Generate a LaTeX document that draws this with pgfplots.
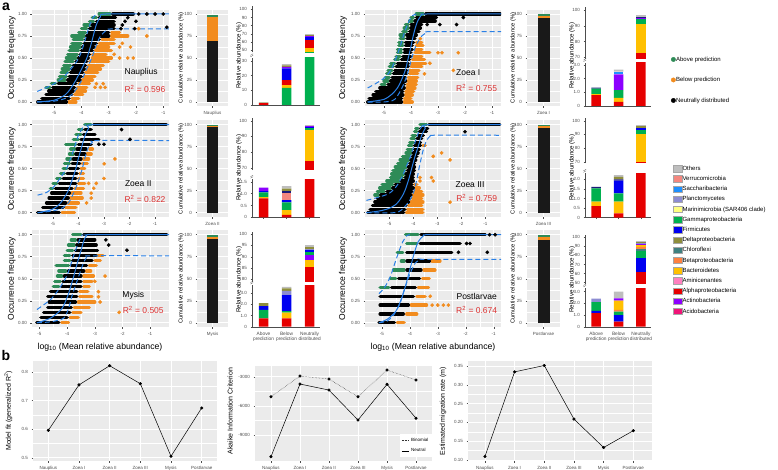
\documentclass[border=0pt]{standalone}
\usepackage{pgfplots}
\pgfplotsset{compat=1.18}
\usepackage{fontspec}
\setmainfont{Liberation Sans}
\newcommand{\fs}[1]{\fontsize{#1}{#1}\selectfont}
\definecolor{gggrey}{HTML}{EBEBEB}
\definecolor{ggtick}{HTML}{4D4D4D}
\definecolor{pgreen}{HTML}{2E8B57}
\definecolor{porange}{HTML}{F28C1E}
\definecolor{fitblue}{HTML}{2A80E6}
\definecolor{rred}{HTML}{DC3232}
\definecolor{cOth}{HTML}{BEBEBE}
\definecolor{cVer}{HTML}{F4877F}
\definecolor{cSac}{HTML}{1E90FF}
\definecolor{cPla}{HTML}{8C8CD2}
\definecolor{cMar}{HTML}{FFFF80}
\definecolor{cGam}{HTML}{00B04F}
\definecolor{cFir}{HTML}{0000F0}
\definecolor{cDel}{HTML}{8E8E3C}
\definecolor{cChl}{HTML}{3F8080}
\definecolor{cBet}{HTML}{FF8040}
\definecolor{cBac}{HTML}{FFC000}
\definecolor{cAmi}{HTML}{FF80C0}
\definecolor{cAlp}{HTML}{E60000}
\definecolor{cAct}{HTML}{8C00FF}
\definecolor{cAci}{HTML}{F01478}
\definecolor{cNav}{HTML}{1C1C7A}

\pgfplotsset{
 base/.style={scale only axis, anchor=south west,
   /pgf/number format/assume math mode=true,
   tick label style={font=\fs{4.5}, text=ggtick},
   major tick length=1.5pt, minor tick length=0pt, tick align=outside,
   tick style={ggtick, line width=0.4pt}},
 gg/.style={base, axis background/.style={fill=gggrey}, axis line style={draw=none},
   grid=both, major grid style={white, line width=0.55pt},
   minor grid style={white, line width=0.3pt},
   xtick pos=left, ytick pos=left},
 scat/.style={gg, height=96.8pt, ymin=-0.05, ymax=1.05,
   ytick={0,0.25,0.5,0.75,1}, yticklabels={0.00,0.25,0.50,0.75,1.00},
   xtick={-5,-4,-3,-2,-1}, xticklabels={-5,-4,-3,-2,-1}, minor tick num=1,
   unbounded coords=jump},
 gs/.style={pgreen, line width=3.3pt, line cap=round},
 os/.style={porange, line width=3.3pt, line cap=round},
 ks/.style={black, line width=3.3pt, line cap=round},
 gp/.style={pgreen, only marks, mark=*, mark size=1.65pt},
 op/.style={porange, only marks, mark=*, mark size=1.65pt},
 kp/.style={black, only marks, mark=*, mark size=1.65pt},
 fl/.style={fitblue, line width=1pt, smooth, tension=0.45},
 fd/.style={fl, dash pattern=on 5pt off 3pt},
 cum/.style={gg, height=96.8pt, ymin=-5, ymax=105, ytick={0,25,50,75,100},
   xtick={1}, xmin=0.4, xmax=1.6, ybar stacked, minor y tick num=1, minor x tick num=0},
 stk/.style={base, xmin=0.5, xmax=3.45, ybar stacked, bar width=9.5pt,
   clip mode=individual, axis line style={ggtick, line width=0.4pt}},
 stklo/.style={stk, axis x line*=bottom, axis y line*=left, xtick={1,2,3}, xticklabels={}},
 stkup/.style={stk, axis y line*=left, hide x axis},
 stknames/.style={xticklabels={Above\\prediction,Below\\prediction,Neutrally\\distributed},
   xticklabel style={align=center, font=\fs{4.8}, text=ggtick}},
 bplot/.style={gg, height=100pt, xtick={1,2,3,4,5,6},
   xticklabels={Nauplius,Zoea I,Zoea II,Zoea III,Mysis,Postlarvae},
   minor y tick num=1, minor x tick num=0, scaled y ticks=false},
}
\newif\ifupper
\newcommand{\bs}[4]{\ifupper\addplot[fill=#1,draw=none] coordinates {(3,#4)};\else\addplot[fill=#1,draw=none] coordinates {(1,#2) (2,#3) (3,#4)};\fi}
\newcommand{\brk}{\draw[ggtick,line width=0.3pt] ([xshift=-1.5pt,yshift=1.2pt]rel axis cs:0,1) -- ++(2.6pt,1.5pt);
 \draw[ggtick,line width=0.3pt] ([xshift=-1.5pt,yshift=2.7pt]rel axis cs:0,1) -- ++(2.6pt,1.5pt);}
\newcommand{\NauB}{\bs{cGam}{0}{11.6}{46}\bs{cBac}{0}{2}{7}\bs{cAlp}{1.2}{3.4}{9}\bs{cFir}{0}{8}{4}\bs{cAct}{0}{0.9}{1}\bs{cDel}{0.4}{1}{1}\bs{cOth}{0.3}{1}{1.3}}
\newcommand{\ZIB}{\bs{cAlp}{0.8}{0.3}{72.9}\bs{cBac}{0.07}{0.3}{18.2}\bs{cGam}{0.4}{0.55}{3}\bs{cAct}{0}{1.15}{1}\bs{cSac}{0}{0.2}{0}\bs{cNav}{0.07}{0}{0.3}\bs{cOth}{0}{0.15}{1.2}}
\newcommand{\ZIIB}{\bs{cAlp}{0.8}{0.1}{74.3}\bs{cBac}{0.05}{0.2}{19.8}\bs{cGam}{0.2}{0.33}{1}\bs{cFir}{0.05}{0.1}{0.9}\bs{cVer}{0}{0.28}{0}\bs{cNav}{0}{0.1}{0}\bs{cAct}{0.15}{0}{0.5}\bs{cDel}{0}{0.1}{0.2}\bs{cOth}{0}{0.11}{0.3}}
\newcommand{\ZIIIB}{\bs{cAlp}{0.6}{0.23}{69.6}\bs{cBac}{0.23}{0.6}{20.7}\bs{cGam}{0.7}{0.44}{3.2}\bs{cFir}{0}{0.66}{1.5}\bs{cNav}{0.08}{0.07}{0}\bs{cDel}{0}{0.13}{1}\bs{cOth}{0}{0.09}{1}}
\newcommand{\MysB}{\bs{cAlp}{0.75}{0.75}{85.6}\bs{cBac}{0}{0.5}{2.9}\bs{cAct}{0}{0}{2.2}\bs{cGam}{0.75}{0.15}{1.3}\bs{cFir}{0.35}{1.43}{1}\bs{cPla}{0}{0.37}{0.5}\bs{cDel}{0.25}{0.23}{0.6}\bs{cOth}{0}{0.14}{1}}
\newcommand{\PosB}{\bs{cAlp}{1.15}{0.43}{61.4}\bs{cFir}{0.2}{0.57}{15.6}\bs{cGam}{0.75}{0.28}{7.8}\bs{cChl}{0}{0}{2.6}\bs{cBet}{0}{0.15}{1.7}\bs{cBac}{0}{0.79}{2}\bs{cAct}{0}{0.2}{1.5}\bs{cPla}{0.3}{0}{0.6}\bs{cDel}{0}{0}{1.2}\bs{cOth}{0}{0.58}{1.8}}

\begin{document}
\begin{tikzpicture}
\useasboundingbox (0,0) rectangle (778pt,-470pt);

% ================= Nauplius scatter
\begin{axis}[scat, width=137pt, at={(32pt,-106.4pt)}, xmin=-5.81, xmax=-0.79]
\addplot[gs] coordinates {(-5.3,.1667)(-5.15,.1667)(nan,nan)(-5.1,.2083)(-4.95,.2083)(nan,nan)(-4.85,.25)(-4.6,.25)(nan,nan)(-4.8,.2917)(-4.55,.2917)(nan,nan)(-4.75,.3333)(-4.5,.3333)(nan,nan)(-4.7,.375)(-4.45,.375)(nan,nan)(-4.65,.4167)(-4.4,.4167)(nan,nan)(-4.6,.4583)(-4.3,.4583)(nan,nan)(-4.55,.5)(-4.2,.5)(nan,nan)(-4.5,.5417)(-4.15,.5417)(nan,nan)(-4.45,.5833)(-4.1,.5833)(nan,nan)(-4.4,.625)(-4.05,.625)(nan,nan)(-4.35,.6667)(-4.0,.6667)(nan,nan)(-4.3,.7083)(-3.95,.7083)(nan,nan)(-4.35,.75)(-3.9,.75)(nan,nan)(-4.1,.7917)(-3.85,.7917)(nan,nan)(-4.0,.8333)(-3.8,.8333)(nan,nan)(-3.9,.875)(-3.7,.875)(nan,nan)(-3.7,.9167)(-3.55,.9167)(nan,nan)(-3.6,.9583)(-3.45,.9583)(nan,nan)(-3.35,1)(-2.95,1)};
\addplot[os] coordinates {(-4.45,0)(-4.2,0)(nan,nan)(-4.35,.0417)(-4.1,.0417)(nan,nan)(-4.25,.0833)(-3.95,.0833)(nan,nan)(-4.2,.125)(-3.85,.125)(nan,nan)(-4.15,.1667)(-3.8,.1667)(nan,nan)(-4.1,.2083)(-3.7,.2083)(nan,nan)(-3.95,.25)(-3.6,.25)(nan,nan)(-3.9,.2917)(-3.5,.2917)(nan,nan)(-3.85,.3333)(-3.4,.3333)(nan,nan)(-3.8,.375)(-3.3,.375)(nan,nan)(-3.75,.4167)(-3.2,.4167)(nan,nan)(-3.7,.4583)(-3.0,.4583)(nan,nan)(-3.6,.5)(-2.9,.5)(nan,nan)(-3.6,.5417)(-3.1,.5417)(nan,nan)(-3.5,.5833)(-2.9,.5833)(nan,nan)(-3.45,.625)(-3.0,.625)(nan,nan)(-3.35,.6667)(-2.8,.6667)(nan,nan)(-3.25,.7083)(-2.8,.7083)(nan,nan)(-2.9,.75)(-2.3,.75)(nan,nan)(-2.9,.7917)(-2.6,.7917)};
\addplot[op] coordinates {(-3.5,.1667)(-3.3,.1667)(-3.13,.1667)(-3.45,.2083)(-3.2,.2083)(-2.6,.5)(-2.3,.5)(-2.1,.5)(-2.8,.5417)(-2.6,.625)(-2.2,.625)(-2.5,.6667)(-1.6,.75)(-1.9,.8333)};
\addplot[ks] coordinates {(-5.6,0)(-4.55,0)(nan,nan)(-5.45,.0417)(-4.45,.0417)(nan,nan)(-5.3,.0833)(-4.35,.0833)(nan,nan)(-5.2,.125)(-4.3,.125)(nan,nan)(-5.05,.1667)(-4.25,.1667)(nan,nan)(-4.85,.2083)(-4.2,.2083)(nan,nan)(-4.5,.25)(-4.05,.25)(nan,nan)(-4.45,.2917)(-4.0,.2917)(nan,nan)(-4.4,.3333)(-3.95,.3333)(nan,nan)(-4.35,.375)(-3.9,.375)(nan,nan)(-4.3,.4167)(-3.85,.4167)(nan,nan)(-4.2,.4583)(-3.8,.4583)(nan,nan)(-4.1,.5)(-3.75,.5)(nan,nan)(-4.05,.5417)(-3.7,.5417)(nan,nan)(-4.0,.5833)(-3.6,.5833)(nan,nan)(-3.95,.625)(-3.55,.625)(nan,nan)(-3.9,.6667)(-3.45,.6667)(nan,nan)(-3.85,.7083)(-3.35,.7083)(nan,nan)(-3.8,.75)(-3.0,.75)(nan,nan)(-3.75,.7917)(-3.0,.7917)(nan,nan)(-3.7,.8333)(-2.8,.8333)(nan,nan)(-3.6,.875)(-2.8,.875)(nan,nan)(-3.45,.9167)(-2.8,.9167)(nan,nan)(-3.35,.9583)(-2.75,.9583)(nan,nan)(-2.85,1)(-2.1,1)};
\addplot[kp] coordinates {(-2.55,.8333)(-2.05,.8333)(-2.5,.875)(-2.4,.9167)(-2.0,.9167)(-2.3,.9583)(-1.9,1)(-1.6,1)(-1.3,1)(-1.0,1)(-0.87,.85)};
\addplot[fl] coordinates {(-5.62,0)(-5.0,0.02)(-4.6,0.08)(-4.4,0.15)(-4.2,0.25)(-4.0,0.37)(-3.8,0.5)(-3.65,0.65)(-3.55,0.77)(-3.45,0.88)(-3.3,0.97)(-3.1,1)(-0.79,1)};
\addplot[fd] coordinates {(-5.62,0.12)(-5.1,0.19)(-4.7,0.27)(-4.4,0.37)(-4.15,0.47)(-4.0,0.57)(-3.85,0.72)(-3.7,0.87)(-3.55,0.97)(-3.42,1)};
\addplot[fd] coordinates {(-5.62,0)(-5.0,0.01)(-4.6,0.04)(-4.3,0.1)(-4.0,0.24)(-3.8,0.38)(-3.62,0.5)(-3.45,0.65)(-3.3,0.75)(-3.1,0.81)(-2.9,0.83)(-0.79,0.83)};
\node[font=\fs{8.5}] at (axis cs:-1.81,0.333) {Nauplius};
\node[font=\fs{8.5}, text=rred] at (axis cs:-1.67,0.144) {R\textsuperscript{2} = 0.596};
\end{axis}

% ================= Zoea II scatter
\begin{axis}[scat, width=137pt, at={(32pt,-217.1pt)}, xmin=-5.82, xmax=-0.45]
\addplot[gs] coordinates {(-5.1,.2778)(-5.0,.2778)(nan,nan)(-5.0,.3333)(-4.85,.3333)(nan,nan)(-4.85,.3889)(-4.7,.3889)(nan,nan)(-4.7,.4444)(-4.55,.4444)(nan,nan)(-4.6,.5)(-4.45,.5)(nan,nan)(-4.55,.5556)(-4.35,.5556)(nan,nan)(-4.45,.6111)(-4.3,.6111)(nan,nan)(-4.35,.6667)(-4.2,.6667)(nan,nan)(-4.3,.7222)(-4.15,.7222)(nan,nan)(-4.5,.7778)(-4.1,.7778)(nan,nan)(-4.2,.8333)(-4.0,.8333)(nan,nan)(-4.1,.8889)(-3.9,.8889)(nan,nan)(-4.0,.9444)(-3.85,.9444)(nan,nan)(-3.75,1)(-3.5,1)};
\addplot[os] coordinates {(-4.65,0)(-4.15,0)(nan,nan)(-4.5,.0556)(-4.1,.0556)(nan,nan)(-4.4,.1111)(-4.0,.1111)(nan,nan)(-4.3,.1667)(-3.85,.1667)(nan,nan)(-4.25,.2222)(-3.9,.2222)(nan,nan)(-4.15,.2778)(-3.8,.2778)(nan,nan)(-4.0,.3333)(-3.75,.3333)(nan,nan)(-4.0,.3889)(-3.8,.3889)(nan,nan)(-3.95,.4444)(-3.8,.4444)(nan,nan)(-3.9,.5)(-3.75,.5)(nan,nan)(-3.85,.5556)(-3.65,.5556)(nan,nan)(-3.8,.6111)(-3.6,.6111)(nan,nan)(-3.65,.6667)(-3.5,.6667)(nan,nan)(-3.55,.7222)(-3.45,.7222)};
\addplot[op] coordinates {(-3.68,.1111)(-3.5,.1667)(-3.5,.2222)(-3.4,.2778)(-3.6,.3333)(-3.3,.3333)(-3.0,.3889)(-2.99,.5556)(-2.57,.6111)};
\addplot[ks] coordinates {(-5.6,0)(-4.75,0)(nan,nan)(-5.4,.0556)(-4.6,.0556)(nan,nan)(-5.25,.1111)(-4.5,.1111)(nan,nan)(-5.15,.1667)(-4.4,.1667)(nan,nan)(-5.05,.2222)(-4.35,.2222)(nan,nan)(-4.9,.2778)(-4.25,.2778)(nan,nan)(-4.75,.3333)(-4.1,.3333)(nan,nan)(-4.6,.3889)(-4.1,.3889)(nan,nan)(-4.45,.4444)(-4.05,.4444)(nan,nan)(-4.35,.5)(-4.0,.5)(nan,nan)(-4.25,.5556)(-3.95,.5556)(nan,nan)(-4.2,.6111)(-3.9,.6111)(nan,nan)(-4.1,.6667)(-3.75,.6667)(nan,nan)(-4.05,.7222)(-3.7,.7222)(nan,nan)(-4.0,.7778)(-3.5,.7778)(nan,nan)(-3.9,.8333)(-3.2,.8333)(nan,nan)(-3.8,.8889)(-3.35,.8889)(nan,nan)(-3.75,.9444)(-3.5,.9444)(nan,nan)(-3.4,1)(-0.55,1)};
\addplot[kp] coordinates {(-3.2,.7778)(-3.0,.7778)(-1.98,.8333)(-2.31,.9444)};
\addplot[fl] coordinates {(-5.6,0.0)(-5.1,0.03)(-4.8,0.08)(-4.6,0.15)(-4.4,0.25)(-4.25,0.37)(-4.1,0.5)(-4.0,0.62)(-3.87,0.75)(-3.75,0.87)(-3.6,0.96)(-3.45,1.0)(-0.45,1.0)};
\addplot[fd] coordinates {(-5.6,0.2)(-5.25,0.23)(-4.95,0.3)(-4.7,0.4)(-4.47,0.5)(-4.3,0.62)(-4.15,0.75)(-4.0,0.88)(-3.8,0.98)(-3.7,1)};
\addplot[fd] coordinates {(-5.6,0.0)(-5.0,0.02)(-4.6,0.06)(-4.35,0.13)(-4.15,0.25)(-4.0,0.36)(-3.85,0.5)(-3.75,0.62)(-3.6,0.75)(-3.45,0.8)(-3.3,0.82)(-0.45,0.82)};
\node[font=\fs{8.5}] at (axis cs:-1.655,0.327) {Zoea II};
\node[font=\fs{8.5}, text=rred] at (axis cs:-1.39,0.156) {R\textsuperscript{2} = 0.822};
\end{axis}

% ================= Mysis scatter
\begin{axis}[scat, width=137pt, at={(32pt,-327.1pt)}, xmin=-5.27, xmax=-0.32]
\addplot[gs] coordinates {(-4.5,.4118)(-4.3,.4118)(nan,nan)(-4.45,.4706)(-4.25,.4706)(nan,nan)(-4.35,.5294)(-4.2,.5294)(nan,nan)(-4.3,.5882)(-4.05,.5882)(nan,nan)(-4.4,.6471)(-3.95,.6471)(nan,nan)(-4.1,.7059)(-3.9,.7059)(nan,nan)(-4.1,.7647)(-3.9,.7647)(nan,nan)(-4.0,.8235)(-3.8,.8235)(nan,nan)(-3.95,.8824)(-3.75,.8824)(nan,nan)(-3.85,.9412)(-3.7,.9412)(nan,nan)(-3.8,1)(-3.5,1)};
\addplot[os] coordinates {(-4.2,0)(-3.95,0)(nan,nan)(-3.9,.0588)(-3.6,.0588)(nan,nan)(-3.8,.1176)(-3.5,.1176)(nan,nan)(-3.75,.1765)(-3.2,.1765)(nan,nan)(-3.6,.2353)(-3.0,.2353)(nan,nan)(-3.55,.2941)(-3.1,.2941)(nan,nan)(-3.55,.3529)(-3.25,.3529)(nan,nan)(-3.4,.4118)(-3.2,.4118)(nan,nan)(-3.4,.4706)(-3.1,.4706)(nan,nan)(-3.4,.5294)(-3.05,.5294)(nan,nan)(-3.3,.5882)(-3.15,.5882)(nan,nan)(-3.2,.6471)(-2.95,.6471)(nan,nan)(-3.0,.7059)(-2.8,.7059)(nan,nan)(-2.9,.7647)(-2.7,.7647)};
\addplot[op] coordinates {(-2.12,.1176)(-2.81,.2353)(-2.87,.2941)(-2.87,.3529)(-3.0,.4706)(-2.63,.5294)};
\addplot[ks] coordinates {(-5.1,0)(-4.3,0)(nan,nan)(-4.95,.0588)(-4.0,.0588)(nan,nan)(-4.85,.1176)(-3.9,.1176)(nan,nan)(-4.7,.1765)(-3.85,.1765)(nan,nan)(-4.65,.2353)(-3.7,.2353)(nan,nan)(-4.7,.2941)(-3.65,.2941)(nan,nan)(-4.6,.3529)(-3.65,.3529)(nan,nan)(-4.2,.4118)(-3.5,.4118)(nan,nan)(-4.15,.4706)(-3.5,.4706)(nan,nan)(-4.1,.5294)(-3.5,.5294)(nan,nan)(-3.95,.5882)(-3.4,.5882)(nan,nan)(-3.85,.6471)(-3.3,.6471)(nan,nan)(-3.8,.7059)(-3.1,.7059)(nan,nan)(-3.8,.7647)(-2.95,.7647)(nan,nan)(-3.7,.8235)(-2.9,.8235)(nan,nan)(-3.65,.8824)(-2.95,.8824)(nan,nan)(-3.6,.9412)(-3.0,.9412)(nan,nan)(-3.4,1)(-0.4,1)};
\addplot[kp] coordinates {(-1.84,.8235)(-2.5,.8824)(-2.6,.9412)};
\addplot[fl] coordinates {(-5.09,0.0)(-4.61,0.05)(-4.19,0.16)(-3.95,0.33)(-3.77,0.52)(-3.63,0.68)(-3.5,0.82)(-3.4,0.93)(-3.3,0.99)(-3.15,1)(-0.32,1)};
\addplot[fd] coordinates {(-5.09,0.15)(-4.61,0.26)(-4.3,0.38)(-4.0,0.54)(-3.85,0.68)(-3.7,0.82)(-3.55,0.94)(-3.45,1)};
\addplot[fd] coordinates {(-5.09,0.0)(-4.6,0.01)(-4.13,0.05)(-3.95,0.16)(-3.83,0.3)(-3.7,0.42)(-3.59,0.52)(-3.41,0.68)(-3.3,0.74)(-3.2,0.76)(-0.32,0.76)};
\node[font=\fs{8.5}] at (axis cs:-1.61,0.307) {Mysis};
\node[font=\fs{8.5}, text=rred] at (axis cs:-1.25,0.144) {R\textsuperscript{2} = 0.505};
\end{axis}

% ================= Zoea I scatter
\begin{axis}[scat, width=136pt, at={(365pt,-106.4pt)}, xmin=-5.70, xmax=-0.667]
\addplot[gs] coordinates {(-5.1,.2)(-4.95,.2)(nan,nan)(-5.0,.24)(-4.85,.24)(nan,nan)(-4.95,.28)(-4.8,.28)(nan,nan)(-4.9,.32)(-4.75,.32)(nan,nan)(-4.85,.36)(-4.7,.36)(nan,nan)(-4.8,.4)(-4.65,.4)(nan,nan)(-4.75,.44)(-4.6,.44)(nan,nan)(-4.6,.48)(-4.45,.48)(nan,nan)(-4.55,.52)(-4.4,.52)(nan,nan)(-4.5,.56)(-4.35,.56)(nan,nan)(-4.5,.6)(-4.35,.6)(nan,nan)(-4.45,.64)(-4.3,.64)(nan,nan)(-4.45,.68)(-4.3,.68)(nan,nan)(-4.4,.72)(-4.25,.72)(nan,nan)(-4.4,.76)(-4.25,.76)(nan,nan)(-4.3,.8)(-4.15,.8)(nan,nan)(-4.25,.84)(-4.1,.84)(nan,nan)(-4.2,.88)(-4.1,.88)(nan,nan)(-4.05,.92)(-3.95,.92)(nan,nan)(-4.0,.96)(-3.9,.96)(nan,nan)(-3.8,1)(-3.55,1)};
\addplot[os] coordinates {(-4.25,0)(-3.95,0)(nan,nan)(-4.25,.04)(-4.0,.04)(nan,nan)(-4.2,.08)(-3.95,.08)(nan,nan)(-4.2,.12)(-3.9,.12)(nan,nan)(-4.15,.16)(-3.85,.16)(nan,nan)(-4.15,.2)(-3.8,.2)(nan,nan)(-4.1,.24)(-3.8,.24)(nan,nan)(-4.1,.28)(-3.75,.28)(nan,nan)(-4.05,.32)(-3.75,.32)(nan,nan)(-4.05,.36)(-3.7,.36)(nan,nan)(-4.0,.4)(-3.6,.4)(nan,nan)(-4.0,.44)(-3.45,.44)(nan,nan)(-3.95,.48)(-3.5,.48)(nan,nan)(-3.9,.52)(-3.6,.52)(nan,nan)(-3.85,.56)(-3.3,.56)(nan,nan)(-3.85,.6)(-3.6,.6)(nan,nan)(-3.8,.64)(-3.55,.64)(nan,nan)(-3.8,.68)(-3.6,.68)};
\addplot[op] coordinates {(-3.5,.32)(-2.43,.36)(-3.3,.44)(-3.0,.56)(-2.85,.56)(-2.25,.56)(-3.65,.72)};
\addplot[ks] coordinates {(-5.6,0)(-4.35,0)(nan,nan)(-5.55,.04)(-4.35,.04)(nan,nan)(-5.4,.08)(-4.3,.08)(nan,nan)(-5.3,.12)(-4.3,.12)(nan,nan)(-5.15,.16)(-4.25,.16)(nan,nan)(-4.85,.2)(-4.25,.2)(nan,nan)(-4.75,.24)(-4.2,.24)(nan,nan)(-4.7,.28)(-4.2,.28)(nan,nan)(-4.65,.32)(-4.15,.32)(nan,nan)(-4.6,.36)(-4.15,.36)(nan,nan)(-4.55,.4)(-4.1,.4)(nan,nan)(-4.5,.44)(-4.1,.44)(nan,nan)(-4.35,.48)(-4.05,.48)(nan,nan)(-4.3,.52)(-4.0,.52)(nan,nan)(-4.25,.56)(-4.0,.56)(nan,nan)(-4.25,.6)(-3.95,.6)(nan,nan)(-4.2,.64)(-3.95,.64)(nan,nan)(-4.2,.68)(-3.9,.68)(nan,nan)(-4.15,.72)(-3.85,.72)(nan,nan)(-4.15,.76)(-3.8,.76)(nan,nan)(-4.05,.8)(-3.7,.8)(nan,nan)(-4.0,.84)(-3.65,.84)(nan,nan)(-4.0,.88)(-3.6,.88)(nan,nan)(-3.85,.92)(-3.1,.92)(nan,nan)(-3.8,.96)(-3.05,.96)(nan,nan)(-3.45,1)(-0.7,1)};
\addplot[kp] coordinates {(-3.4,.88)(-2.93,.88)(-2.31,.88)(-2.06,.96)};
\addplot[fl] coordinates {(-5.6,0.0)(-5.0,0.03)(-4.7,0.09)(-4.5,0.16)(-4.35,0.25)(-4.2,0.37)(-4.1,0.5)(-4.0,0.63)(-3.94,0.72)(-3.85,0.83)(-3.75,0.92)(-3.6,0.99)(-3.4,1)(-0.667,1)};
\addplot[fd] coordinates {(-5.6,0.16)(-5.3,0.21)(-5.0,0.27)(-4.75,0.36)(-4.55,0.5)(-4.4,0.63)(-4.25,0.78)(-4.1,0.9)(-3.95,0.98)(-3.8,1)};
\addplot[fd] coordinates {(-5.6,0.0)(-5.0,0.0)(-4.6,0.03)(-4.3,0.18)(-4.1,0.35)(-3.95,0.52)(-3.8,0.65)(-3.6,0.75)(-3.4,0.79)(-3.25,0.8)(-0.667,0.8)};
\node[font=\fs{8.5}] at (axis cs:-1.88,0.333) {Zoea I};
\node[font=\fs{8.5}, text=rred] at (axis cs:-1.57,0.156) {R\textsuperscript{2} = 0.755};
\end{axis}

% ================= Zoea III scatter
\begin{axis}[scat, width=136pt, at={(365pt,-217.1pt)}, xmin=-6.01, xmax=-0.35]
\addplot[gs] coordinates {(-5.6,.2)(-5.45,.2)(nan,nan)(-5.5,.24)(-5.2,.24)(nan,nan)(-5.4,.28)(-4.95,.28)(nan,nan)(-5.3,.32)(-4.85,.32)(nan,nan)(-5.1,.36)(-4.6,.36)(nan,nan)(-4.95,.4)(-4.45,.4)(nan,nan)(-4.9,.44)(-4.4,.44)(nan,nan)(-4.85,.48)(-4.35,.48)(nan,nan)(-4.75,.52)(-4.3,.52)(nan,nan)(-4.65,.56)(-4.25,.56)(nan,nan)(-4.55,.6)(-4.2,.6)(nan,nan)(-4.45,.64)(-4.15,.64)(nan,nan)(-4.3,.68)(-4.1,.68)(nan,nan)(-4.25,.72)(-4.05,.72)(nan,nan)(-4.2,.76)(-4.05,.76)(nan,nan)(-4.15,.8)(-4.0,.8)(nan,nan)(-4.1,.84)(-3.95,.84)(nan,nan)(-4.05,.88)(-3.9,.88)(nan,nan)(-3.95,.92)(-3.85,.92)(nan,nan)(-3.9,.96)(-3.8,.96)(nan,nan)(-3.72,1)(-3.45,1)};
\addplot[os] coordinates {(-4.3,0)(-3.6,0)(nan,nan)(-4.25,.04)(-3.6,.04)(nan,nan)(-4.2,.08)(-3.65,.08)(nan,nan)(-4.1,.12)(-3.6,.12)(nan,nan)(-4.05,.16)(-3.65,.16)(nan,nan)(-4.0,.2)(-3.6,.2)(nan,nan)(-3.95,.24)(-3.65,.24)(nan,nan)(-3.9,.28)(-3.75,.28)(nan,nan)(-3.95,.32)(-3.85,.32)(nan,nan)(-3.6,.76)(-3.5,.76)};
\addplot[op] coordinates {(-2.47,.12)(-3.72,.36)(-3.17,.36)(-3.72,.4)(-3.24,.4)(-2.47,.6)(-3.17,.64)(-2.82,.68)};
\addplot[ks] coordinates {(-5.9,0)(-4.4,0)(nan,nan)(-5.8,.04)(-4.35,.04)(nan,nan)(-5.7,.08)(-4.3,.08)(nan,nan)(-5.6,.12)(-4.2,.12)(nan,nan)(-5.5,.16)(-4.15,.16)(nan,nan)(-5.35,.2)(-4.1,.2)(nan,nan)(-5.1,.24)(-4.05,.24)(nan,nan)(-4.85,.28)(-4.0,.28)(nan,nan)(-4.75,.32)(-4.05,.32)(nan,nan)(-4.5,.36)(-4.0,.36)(nan,nan)(-4.35,.4)(-4.0,.4)(nan,nan)(-4.3,.44)(-4.0,.44)(nan,nan)(-4.25,.48)(-3.95,.48)(nan,nan)(-4.2,.52)(-3.95,.52)(nan,nan)(-4.15,.56)(-3.95,.56)(nan,nan)(-4.1,.6)(-3.9,.6)(nan,nan)(-4.05,.64)(-3.85,.64)(nan,nan)(-4.0,.68)(-3.8,.68)(nan,nan)(-3.95,.72)(-3.75,.72)(nan,nan)(-3.95,.76)(-3.7,.76)(nan,nan)(-3.9,.8)(-3.7,.8)(nan,nan)(-3.85,.84)(-3.65,.84)(nan,nan)(-3.8,.88)(-3.58,.88)(nan,nan)(-3.75,.92)(-3.45,.92)(nan,nan)(-3.7,.96)(-3.4,.96)(nan,nan)(-3.35,1)(-0.4,1)};
\addplot[kp] coordinates {(-1.85,.92)};
\addplot[fl] coordinates {(-5.95,0.0)(-5.4,0.02)(-5.0,0.05)(-4.7,0.1)(-4.5,0.17)(-4.35,0.25)(-4.2,0.37)(-4.07,0.5)(-3.95,0.62)(-3.8,0.75)(-3.65,0.88)(-3.5,0.96)(-3.38,1.0)(-0.35,1.0)};
\addplot[fd] coordinates {(-5.95,0.14)(-5.4,0.18)(-5.0,0.22)(-4.7,0.3)(-4.45,0.42)(-4.3,0.52)(-4.14,0.62)(-3.95,0.78)(-3.8,0.9)(-3.65,0.98)(-3.55,1)};
\addplot[fd] coordinates {(-5.95,0.0)(-4.8,0.0)(-4.5,0.03)(-4.2,0.12)(-4.0,0.22)(-3.85,0.38)(-3.75,0.52)(-3.6,0.7)(-3.45,0.82)(-3.3,0.87)(-3.2,0.88)(-0.35,0.88)};
\node[font=\fs{8.5}] at (axis cs:-1.64,0.324) {Zoea III};
\node[font=\fs{8.5}, text=rred] at (axis cs:-1.36,0.164) {R\textsuperscript{2} = 0.759};
\end{axis}

% ================= Postlarvae scatter
\begin{axis}[scat, width=136pt, at={(365pt,-327.1pt)}, xmin=-5.6, xmax=-0.74]
\addplot[gs] coordinates {(-5.06,.4)(-4.75,.4)(nan,nan)(-4.7,.5)(-4.5,.5)(nan,nan)(-4.58,.6)(-4.2,.6)(nan,nan)(-4.3,.7)(-4.2,.7)(nan,nan)(-4.45,.8)(-4.25,.8)(nan,nan)(-4.11,.9)(-3.75,.9)(nan,nan)(-4.15,1)(-3.7,1)};
\addplot[os] coordinates {(-4.45,0)(-4.2,0)(nan,nan)(-4.11,.1)(-3.75,.1)(nan,nan)(-3.95,.2)(-3.4,.2)(nan,nan)(-3.75,.3)(-3.45,.3)(nan,nan)(-3.7,.4)(-3.33,.4)(nan,nan)(-3.55,.5)(-3.3,.5)(nan,nan)(-3.5,.6)(-3.1,.6)(nan,nan)(-3.2,.7)(-2.92,.7)};
\addplot[op] coordinates {(-3.2,.2)(-3.0,.2)(-2.8,.2)(-2.62,.2)(-3.27,.3)};
\addplot[ks] coordinates {(-5.1,0)(-4.55,0)(nan,nan)(-5.06,.1)(-4.23,.1)(nan,nan)(-5.06,.2)(-4.05,.2)(nan,nan)(-5.06,.3)(-3.87,.3)(nan,nan)(-4.65,.4)(-3.8,.4)(nan,nan)(-4.4,.5)(-3.65,.5)(nan,nan)(-4.1,.6)(-3.6,.6)(nan,nan)(-4.1,.7)(-3.3,.7)(nan,nan)(-4.11,.8)(-2.5,.8)(nan,nan)(-3.63,.9)(-2.2,.9)(nan,nan)(-3.6,1)(-1.3,1)};
\addplot[kp] coordinates {(-2.26,.8)(-1.23,.8)(-1.97,.9)(-1.85,.9)(-1.15,1)(-0.95,1)};
\addplot[fl] coordinates {(-5.1,0.0)(-4.8,0.04)(-4.5,0.13)(-4.3,0.27)(-4.15,0.42)(-4.0,0.6)(-3.85,0.78)(-3.7,0.92)(-3.5,0.99)(-3.3,1)(-0.74,1)};
\addplot[fd] coordinates {(-5.1,0.33)(-4.9,0.4)(-4.7,0.52)(-4.55,0.66)(-4.4,0.8)(-4.25,0.92)(-4.1,0.99)(-4.0,1)};
\addplot[fd] coordinates {(-5.1,0.0)(-4.8,0.02)(-4.55,0.1)(-4.35,0.22)(-4.2,0.37)(-4.0,0.55)(-3.8,0.68)(-3.6,0.72)(-3.4,0.72)(-0.74,0.72)};
\node[font=\fs{8.5}] at (axis cs:-1.61,0.303) {Postlarvae};
\node[font=\fs{8.5}, text=rred] at (axis cs:-1.61,0.144) {R\textsuperscript{2} = 0.674};
\end{axis}

% ================= cumulative bars
\begin{axis}[cum, width=31pt, at={(197pt,-106.4pt)}, xticklabels={Nauplius}, bar width=10.5pt]
\addplot[fill=black!90,draw=none] coordinates {(1,69)};\addplot[fill=porange,draw=none] coordinates {(1,28)};\addplot[fill=pgreen,draw=none] coordinates {(1,2)};
\end{axis}
\begin{axis}[cum, width=31pt, at={(197pt,-217.1pt)}, xticklabels={Zoea II}, bar width=10.5pt]
\addplot[fill=black!90,draw=none] coordinates {(1,97)};\addplot[fill=porange,draw=none] coordinates {(1,1.5)};\addplot[fill=pgreen,draw=none] coordinates {(1,1)};
\end{axis}
\begin{axis}[cum, width=31pt, at={(197pt,-327.1pt)}, xticklabels={Mysis}, bar width=10.5pt]
\addplot[fill=black!90,draw=none] coordinates {(1,95)};\addplot[fill=porange,draw=none] coordinates {(1,2.5)};\addplot[fill=pgreen,draw=none] coordinates {(1,2)};
\end{axis}
\begin{axis}[cum, width=33pt, at={(527pt,-106.4pt)}, xticklabels={Zoea I}, bar width=12pt]
\addplot[fill=black!90,draw=none] coordinates {(1,96)};\addplot[fill=porange,draw=none] coordinates {(1,2)};\addplot[fill=pgreen,draw=none] coordinates {(1,1.5)};
\end{axis}
\begin{axis}[cum, width=33pt, at={(527pt,-217.1pt)}, xticklabels={Zoea III}, bar width=12pt]
\addplot[fill=black!90,draw=none] coordinates {(1,96)};\addplot[fill=porange,draw=none] coordinates {(1,2.2)};\addplot[fill=pgreen,draw=none] coordinates {(1,1.3)};
\end{axis}
\begin{axis}[cum, width=33pt, at={(527pt,-327.1pt)}, xticklabels={Postlarvae}, bar width=12pt]
\addplot[fill=black!90,draw=none] coordinates {(1,94)};\addplot[fill=porange,draw=none] coordinates {(1,3.5)};\addplot[fill=pgreen,draw=none] coordinates {(1,2)};
\end{axis}

% ================= stacked bars (broken axes)
% Nauplius
\upperfalse
\begin{axis}[stklo, width=68pt, height=47pt, at={(252pt,-105pt)}, ymin=0, ymax=32, ytick={0,10,20,30}]
\NauB \brk
\end{axis}
\uppertrue
\begin{axis}[stkup, width=68pt, height=46.3pt, at={(252pt,-52.4pt)}, ymin=47, ymax=104, ytick={50,60,70,80,90,100}]
\NauB
\end{axis}
% Zoea II
\upperfalse
\begin{axis}[stklo, width=68pt, height=37.9pt, at={(252pt,-217.3pt)}, ymin=0, ymax=1.6, ytick={0,0.5,1,1.5}, yticklabels={0,0.5,1.0,1.5}]
\ZIIB \brk
\end{axis}
\uppertrue
\begin{axis}[stkup, width=68pt, height=52.5pt, at={(252pt,-170.1pt)}, ymin=68.5, ymax=102, ytick={70,80,90,100}]
\ZIIB
\end{axis}
% Mysis
\upperfalse
\begin{axis}[stklo, stknames, width=68pt, height=41.4pt, at={(252pt,-326.7pt)}, ymin=0, ymax=3.7, ytick={0,1,2,3}, yticklabels={0,1.0,2.0,3.0}]
\MysB \brk
\end{axis}
\uppertrue
\begin{axis}[stkup, width=68pt, height=49.9pt, at={(252pt,-281.7pt)}, ymin=79, ymax=101, ytick={80,85,90,95,100}]
\MysB
\end{axis}
% Zoea I
\upperfalse
\begin{axis}[stklo, width=66pt, height=43.2pt, at={(585pt,-106pt)}, ymin=0, ymax=3.15, ytick={0,1,2,3}, yticklabels={0,1.0,2.0,3.0}]
\ZIB \brk
\end{axis}
\uppertrue
\begin{axis}[stkup, width=66pt, height=51.8pt, at={(585pt,-58.6pt)}, ymin=69.2, ymax=102, ytick={70,80,90,100}]
\ZIB
\end{axis}
% Zoea III
\upperfalse
\begin{axis}[stklo, width=66pt, height=44.2pt, at={(585pt,-217.7pt)}, ymin=0, ymax=2.3, ytick={0,0.5,1,1.5,2}, yticklabels={0,0.5,1.0,1.5,2.0}]
\ZIIIB \brk
\end{axis}
\uppertrue
\begin{axis}[stkup, width=66pt, height=45.1pt, at={(585pt,-163.1pt)}, ymin=69, ymax=102, ytick={70,80,90,100}]
\ZIIIB
\end{axis}
% Postlarvae
\upperfalse
\begin{axis}[stklo, stknames, width=66pt, height=38.6pt, at={(585pt,-326.7pt)}, ymin=0, ymax=3.3, ytick={0,1,2,3}, yticklabels={0,1.0,2.0,3.0}]
\PosB \brk
\end{axis}
\uppertrue
\begin{axis}[stkup, width=66pt, height=48.2pt, at={(585pt,-283.6pt)}, ymin=49, ymax=102, ytick={50,60,70,80,90,100}]
\PosB
\end{axis}
\upperfalse

% ================= legends
\begin{axis}[hide axis, scale only axis, anchor=south west, width=100pt, height=60pt, at={(671pt,-113pt)},
  xmin=0, xmax=1, ymin=0, ymax=1,
  legend cell align=left,
  legend style={at={(0,1)}, anchor=north west, draw=none, fill=none, inner sep=0pt,
    font=\fs{6}, row sep=14pt, nodes={inner sep=0.5pt, text height=4.5pt, text depth=1pt}},
  yshift=-3pt]
\addlegendimage{only marks, mark=*, mark size=2.2pt, pgreen}\addlegendentry{Above prediction}
\addlegendimage{only marks, mark=*, mark size=2.2pt, porange}\addlegendentry{Below prediction}
\addlegendimage{only marks, mark=*, mark size=2.2pt, black}\addlegendentry{Neutrally distributed}
\end{axis}
\begin{axis}[hide axis, scale only axis, anchor=south west, width=100pt, height=150pt, at={(673pt,-315pt)},
  xmin=0, xmax=1, ymin=0, ymax=1,
  legend cell align=left,
  legend image code/.code={\draw[#1, draw=gray!70, line width=0.3pt] (0pt,-3.2pt) rectangle (8.5pt,3.2pt);},
  legend style={at={(0,1)}, anchor=north west, draw=none, fill=none, inner sep=0pt,
    font=\fs{6}, row sep=3.5pt, nodes={inner sep=0.5pt, text height=4.5pt, text depth=1pt}}]
\addlegendimage{fill=cOth}\addlegendentry{Others}
\addlegendimage{fill=cVer}\addlegendentry{Verrucomicrobia}
\addlegendimage{fill=cSac}\addlegendentry{Saccharibacteria}
\addlegendimage{fill=cPla}\addlegendentry{Planctomycetes}
\addlegendimage{fill=cMar}\addlegendentry{Marinimicrobia (SAR406 clade)}
\addlegendimage{fill=cGam}\addlegendentry{Gammaproteobacteria}
\addlegendimage{fill=cFir}\addlegendentry{Firmicutes}
\addlegendimage{fill=cDel}\addlegendentry{Deltaproteobacteria}
\addlegendimage{fill=cChl}\addlegendentry{Chloroflexi}
\addlegendimage{fill=cBet}\addlegendentry{Betaproteobacteria}
\addlegendimage{fill=cBac}\addlegendentry{Bacteroidetes}
\addlegendimage{fill=cAmi}\addlegendentry{Aminicenantes}
\addlegendimage{fill=cAlp}\addlegendentry{Alphaproteobacteria}
\addlegendimage{fill=cAct}\addlegendentry{Actinobacteria}
\addlegendimage{fill=cAci}\addlegendentry{Acidobacteria}
\end{axis}

% ================= panel b
\begin{axis}[bplot, width=184pt, at={(33pt,-461pt)}, xmin=0.5, xmax=6.5, ymin=0.4885, ymax=0.8385,
  ytick={0.5,0.6,0.7,0.8}, yticklabels={0.5,0.6,0.7,0.8}]
\addplot[black, line width=0.5pt, mark=*, mark size=1.3pt] coordinates {(1,0.596)(2,0.755)(3,0.822)(4,0.759)(5,0.505)(6,0.674)};
\end{axis}
\begin{axis}[bplot, width=177pt, height=95.3pt, at={(255pt,-461pt)}, xmin=0.45, xmax=6.55, ymin=-11665, ymax=-1865,
  ytick={-9000,-6000,-3000}, yticklabels={-9000,-6000,-3000},
  legend cell align=left,
  legend image code/.code={\draw[#1] (0pt,0pt) -- (7pt,0pt);},
  legend style={at={(1,0)}, anchor=south east, draw=none, fill=white, font=\fs{4.5},
    inner sep=1.5pt, row sep=2pt, yshift=4pt}]
\addplot[black!80, line width=0.45pt, densely dotted, mark=*, mark size=1.3pt, mark options={solid, black}] coordinates {(1,-5055)(2,-2930)(3,-3240)(4,-5055)(5,-2310)(6,-3340)};
\addlegendentry{Binomial}
\addplot[black, line width=0.5pt, mark=*, mark size=1.3pt] coordinates {(1,-11220)(2,-3750)(3,-4370)(4,-7450)(5,-3780)(6,-7270)};
\addlegendentry{Neutral}
\end{axis}
\begin{axis}[bplot, width=184pt, at={(468pt,-461pt)}, xmin=0.43, xmax=6.63, ymin=0.097, ymax=0.364,
  ytick={0.1,0.15,0.2,0.25,0.3,0.35}, yticklabels={0.10,0.15,0.20,0.25,0.30,0.35}]
\addplot[black, line width=0.5pt, mark=*, mark size=1.3pt] coordinates {(1,0.109)(2,0.335)(3,0.352)(4,0.209)(5,0.133)(6,0.178)};
\end{axis}

% ================= text labels
\node[font=\bfseries\fs{14}] at (6pt,-6.5pt) {a};
\node[font=\bfseries\fs{14}] at (6pt,-355pt) {b};
\foreach \yy in {58,168.9,278.7} {
  \node[font=\fs{8.5}, rotate=90] at (11.7pt,-\yy pt) {Occurrence frequency};
  \node[font=\fs{8.5}, rotate=90] at (343pt,-\yy pt) {Occurrence frequency};
  \node[font=\fs{5.8}, rotate=90] at (181pt,-\yy pt) {Cumulative relative abundance (\%)};
  \node[font=\fs{5.8}, rotate=90] at (513pt,-\yy pt) {Cumulative relative abundance (\%)};
}
\foreach \yy in {55.5,167.5,279.5} {
  \node[font=\fs{6.2}, rotate=90] at (239pt,-\yy pt) {Relative abundance (\%)};
  \node[font=\fs{6.2}, rotate=90] at (572pt,-\yy pt) {Relative abundance (\%)};
}
\node[font=\fs{8.7}] at (100pt,-347pt) {log\textsubscript{10} (Mean relative abundance)};
\node[font=\fs{8.7}] at (433pt,-347pt) {log\textsubscript{10} (Mean relative abundance)};
\node[font=\fs{7}, rotate=90] at (8.3pt,-411pt) {Model fit (generalized R\textsuperscript{2})};
\node[font=\fs{7}, rotate=90] at (230pt,-411pt) {Akaike Information Criterion};
\node[font=\fs{7}, rotate=90] at (443pt,-411pt) {Estimated migration rate (m)};
\end{tikzpicture}
\end{document}
